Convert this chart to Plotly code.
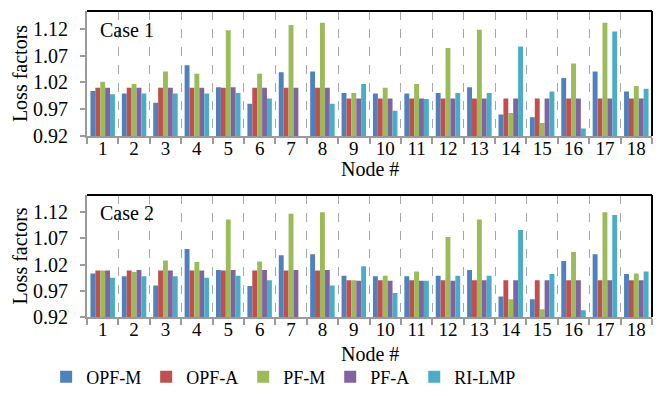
import plotly.graph_objects as go

nodes = [str(i) for i in range(1, 19)]
series_names = ["OPF-M", "OPF-A", "PF-M", "PF-A", "RI-LMP"]
colors = ["#4F81BD", "#C0504D", "#9BBB59", "#8064A2", "#4BACC6"]

# Case 1
c1_opf_m = [1.004, 0.999, 0.982, 1.052, 1.011, 0.980, 1.039, 1.040, 1.000, 0.999, 0.999, 1.000, 1.011, 0.960, 0.955, 1.028, 1.040, 1.003]
c1_opf_a = [1.010, 1.010, 1.010, 1.010, 1.010, 1.010, 1.010, 1.010, 0.990, 0.990, 0.990, 0.990, 0.990, 0.990, 0.990, 0.990, 0.990, 0.990]
c1_pf_m = [1.021, 1.017, 1.040, 1.036, 1.117, 1.036, 1.127, 1.131, 1.000, 1.010, 1.017, 1.084, 1.118, 0.963, 0.944, 1.055, 1.131, 1.013]
c1_pf_a = [1.010, 1.010, 1.010, 1.010, 1.011, 1.010, 1.010, 1.010, 0.990, 0.990, 0.990, 0.990, 0.990, 0.990, 0.990, 0.990, 0.990, 0.990]
c1_ri_lmp = [0.998, 0.999, 0.999, 0.999, 1.000, 0.990, 0.915, 0.980, 1.017, 0.967, 0.989, 1.000, 1.000, 1.087, 1.003, 0.934, 1.115, 1.008]

# Case 2
c2_opf_m = [1.003, 0.998, 0.980, 1.050, 1.010, 0.979, 1.038, 1.040, 0.999, 0.998, 0.998, 0.999, 1.010, 0.959, 0.954, 1.027, 1.040, 1.002]
c2_opf_a = [1.009, 1.009, 1.009, 1.009, 1.009, 1.009, 1.009, 1.009, 0.990, 0.990, 0.990, 0.990, 0.990, 0.990, 0.990, 0.990, 0.990, 0.990]
c2_pf_m = [1.009, 1.006, 1.028, 1.025, 1.106, 1.026, 1.117, 1.120, 0.990, 0.999, 1.007, 1.073, 1.106, 0.954, 0.935, 1.044, 1.120, 1.003]
c2_pf_a = [1.009, 1.010, 1.009, 1.009, 1.010, 1.010, 1.010, 1.010, 0.989, 0.989, 0.989, 0.989, 0.990, 0.990, 0.990, 0.990, 0.990, 0.990]
c2_ri_lmp = [0.995, 0.998, 0.998, 0.995, 0.999, 0.990, 0.915, 0.980, 1.017, 0.966, 0.989, 0.999, 0.999, 1.086, 1.002, 0.933, 1.115, 1.007]

case1 = [c1_opf_m, c1_opf_a, c1_pf_m, c1_pf_a, c1_ri_lmp]
case2 = [c2_opf_m, c2_opf_a, c2_pf_m, c2_pf_a, c2_ri_lmp]
y_ticks = [0.92, 0.97, 1.02, 1.07, 1.12]
y_tick_text = ["0.92", "0.97", "1.02", "1.07", "1.12"]

FONT = "Liberation Serif"
FS = 20
W, H = 659, 396

fig = go.Figure()
for name, col, vals in zip(series_names, colors, case1):
    fig.add_trace(go.Bar(x=nodes, y=vals, name=name, marker_color=col,
                         marker_line_width=0, xaxis="x", yaxis="y", legendgroup=name))
for name, col, vals in zip(series_names, colors, case2):
    fig.add_trace(go.Bar(x=nodes, y=vals, name=name, marker_color=col,
                         marker_line_width=0, xaxis="x2", yaxis="y2", legendgroup=name,
                         showlegend=False))

xdom = [87 / W, 652 / W]
d1 = [1 - 136 / H, 1 - 11 / H]
d2 = [1 - 317 / H, 1 - 195 / H]

def xaxis_cfg(anchor):
    return dict(type="category", domain=xdom, anchor=anchor,
                tickson="boundaries", ticks="outside", ticklen=6, tickwidth=2,
                tickcolor="#9A9A9A", showline=True, linecolor="#9A9A9A", linewidth=2,
                showgrid=True, gridcolor="#A6A6A6", griddash="dash", gridwidth=1,
                tickfont=dict(family=FONT, size=19, color="black"),
                ticklabelstandoff=-6,
                automargin=False)

def yaxis_cfg(anchor, dom):
    return dict(domain=dom, anchor=anchor, range=[0.92, 1.153],
                tickvals=y_ticks, ticktext=y_tick_text,
                showline=True, linecolor="#9A9A9A", linewidth=2, showgrid=False,
                zeroline=False, ticks="outside", ticklen=5, tickwidth=1.5, tickcolor="#9A9A9A",
                tickfont=dict(family=FONT, size=FS, color="black"),
                ticklabelstandoff=8,
                title=dict(text="Loss factors", font=dict(family=FONT, size=FS, color="black"), standoff=0),
                automargin=False)

fig.update_layout(
    width=W, height=H,
    margin=dict(l=0, r=0, t=0, b=0),
    paper_bgcolor="white", plot_bgcolor="white",
    barmode="group", bargap=0.22, bargroupgap=0,
    font=dict(family=FONT, size=FS, color="black"),
    xaxis=xaxis_cfg("y"), yaxis=yaxis_cfg("x", d1),
    xaxis2=xaxis_cfg("y2"), yaxis2=yaxis_cfg("x2", d2),
    legend=dict(orientation="h", x=0.07, xanchor="left", y=1 - 377 / H, yanchor="middle",
                font=dict(family=FONT, size=18, color="black"), itemwidth=30,
                traceorder="normal"),
    showlegend=True,
)

for xr, yr, label, ty in [("x", "y", "Case 1", 169), ("x2", "y2", "Case 2", 354)]:
    fig.add_shape(type="line", xref=f"{xr} domain", yref=f"{yr} domain",
                  x0=0, x1=1, y0=1, y1=1, line=dict(color="black", width=2))
    fig.add_shape(type="line", xref=f"{xr} domain", yref=f"{yr} domain",
                  x0=1, x1=1, y0=0, y1=1, line=dict(color="black", width=2))
    fig.add_annotation(text=label, xref=f"{xr} domain", yref=f"{yr} domain",
                       x=0.02, y=0.85, xanchor="left", yanchor="middle", showarrow=False,
                       font=dict(family=FONT, size=FS, color="black"))
    fig.add_annotation(text="Node #", xref=f"{xr} domain", yref="paper",
                       x=0.5, y=1 - ty / H, xanchor="center", yanchor="middle", showarrow=False,
                       font=dict(family=FONT, size=FS, color="black"))

fig.write_html("out.html")
